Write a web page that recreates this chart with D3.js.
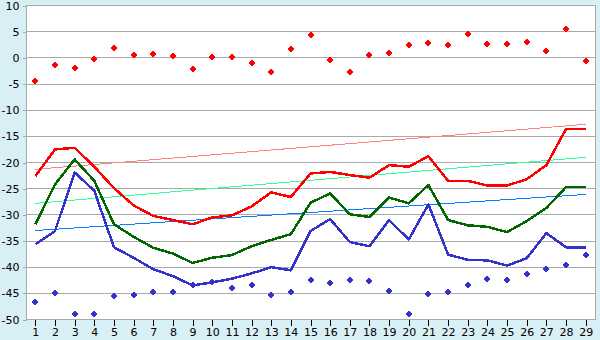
<!DOCTYPE html>
<html>
<head>
  <meta charset="utf-8">
  <title></title>
  <style>
    body { margin: 0; background: #d9eff6; }
    svg { display: block; }
    text { font-family: "DejaVu Sans", Verdana, sans-serif; font-size: 11px; fill: #000; }
  </style>
  <script src="https://d3js.org/d3.v7.min.js"></script>
</head>
<body>
  <svg id="chart" width="600" height="340"></svg>
  <script>
    // categories on x
    const days = [1, 2, 3, 4, 5, 6, 7, 8, 9, 10, 11, 12, 13, 14, 15, 16, 17, 18, 19, 20, 21, 22, 23, 24, 25, 26, 27, 28, 29]
    const yTicks = [-50, -45, -40, -35, -30, -25, -20, -15, -10, -5, 0, 5, 10]

    // main lines
    const redLine = [-22.6, -17.5, -17.2, -20.8, -24.9, -28.2, -30.2, -31.0, -31.8, -30.5, -30.1, -28.4, -25.7, -26.6, -22.1,
      -21.8, -22.4, -22.9, -20.5, -20.8, -18.8, -23.5, -23.5, -24.4, -24.4, -23.2, -20.5, -13.6, -13.6]
    const greenLine = [-31.8, -24.2, -19.4, -23.5, -31.8, -34.2, -36.3, -37.4, -39.2, -38.2, -37.7, -36.0, -34.8, -33.7, -27.7,
      -25.9, -29.9, -30.4, -26.7, -27.8, -24.3, -31.0, -32.0, -32.3, -33.3, -31.2, -28.7, -24.7, -24.7]
    const blueLine = [-35.6, -33.1, -21.9, -25.4, -36.2, -38.2, -40.4, -41.7, -43.5, -42.9, -42.2, -41.2, -40.0, -40.6, -33.1,
      -30.8, -35.2, -36.0, -31.0, -34.7, -28.0, -37.6, -38.6, -38.7, -39.7, -38.3, -33.5, -36.2, -36.2]

    // scatter points
    const redDots = [-4.5, -1.3, -1.9, -0.2, 1.9, 0.6, 0.8, 0.4, -2.1, 0.2, 0.2, -0.9, -2.8, 1.6, 4.3,
      -0.5, -2.8, 0.6, 1.0, 2.4, 2.9, 2.4, 4.6, 2.7, 2.7, 3.1, 1.4, 5.6, -0.7]
    const blueDots = [-46.6, -45.0, -48.9, -49.0, -45.6, -45.4, -44.8, -44.8, -43.5, -42.9, -43.9, -43.4, -45.4, -44.8, -42.5,
      -43.1, -42.5, -42.7, -44.5, -49.0, -45.2, -44.8, -43.5, -42.2, -42.5, -41.4, -40.4, -39.5, -37.6]

    // trend lines, value at day 1 and at day 29
    const redTrend = [-21.3, -12.7]
    const greenTrend = [-27.8, -19.0]
    const blueTrend = [-33.0, -26.1]

    const svg = d3.select("#chart")

    const x = d3.scalePoint()
      .domain(days)
      .range([25.5, 595.5])
      .padding(0.5)

    const y = d3.scaleLinear()
      .domain([-50, 10])
      .range([319.5, 5.5])

    // plot area
    svg.append("rect")
      .attr("x", 26)
      .attr("y", y(10))
      .attr("width", 595.5 - 26)
      .attr("height", y(-50) - y(10))
      .attr("fill", "#fff")

    // grid
    svg.append("g")
      .selectAll("line")
      .data(yTicks)
      .join("line")
      .attr("x1", 26)
      .attr("x2", 595.5)
      .attr("y1", d => y(d))
      .attr("y2", d => y(d))
      .attr("stroke", "#aaa")
      .attr("shape-rendering", "crispEdges")

    // right border
    svg.append("line")
      .attr("x1", 595.5).attr("x2", 595.5)
      .attr("y1", y(10)).attr("y2", y(-50))
      .attr("stroke", "#aaa")
      .attr("shape-rendering", "crispEdges")

    // y axis
    const yAxis = svg.append("g")
      .attr("transform", "translate(26.5,0)")
      .call(d3.axisLeft(y).tickValues(yTicks).tickSize(4).tickPadding(3).tickFormat(d => String(d)))
    yAxis.selectAll("line, path").attr("stroke", "#aaa").attr("shape-rendering", "crispEdges")
    yAxis.select(".domain").attr("d", `M0,${y(10)}V${y(-50)}`)
    yAxis.selectAll("text").style("font-family", null).attr("fill", "#000")

    // x axis
    const xAxis = svg.append("g")
      .attr("transform", `translate(0,${y(-50)})`)
      .call(d3.axisBottom(x).tickSize(6).tickPadding(3))
    xAxis.select(".domain").remove()
    xAxis.selectAll("line").attr("stroke", "#000").attr("shape-rendering", "crispEdges")
    xAxis.selectAll("text").style("font-family", null).attr("fill", "#000")

    // trend lines
    const trends = [[redTrend, "#ff8080"], [greenTrend, "#33ff99"], [blueTrend, "#0080ff"]]
    svg.append("g")
      .selectAll("line")
      .data(trends)
      .join("line")
      .attr("x1", x(days[0]))
      .attr("x2", x(days[days.length - 1]))
      .attr("y1", d => y(d[0][0]))
      .attr("y2", d => y(d[0][1]))
      .attr("stroke", d => d[1])
      .attr("stroke-width", 1)
      .attr("shape-rendering", "crispEdges")

    // main lines
    const line = d3.line()
      .x((d, i) => x(days[i]))
      .y(d => y(d))

    const series = [[redLine, "#ff0000"], [greenLine, "#006600"], [blueLine, "#3333cc"]]
    svg.append("g")
      .selectAll("path")
      .data(series)
      .join("path")
      .attr("d", d => line(d[0]))
      .attr("fill", "none")
      .attr("stroke", d => d[1])
      .attr("stroke-width", 2.5)
      .attr("stroke-linejoin", "round")
      .attr("shape-rendering", "crispEdges")

    // scatter markers, small pixel cross with a bold centre
    function drawDots(values, color) {
      const g = svg.append("g").attr("fill", color).attr("shape-rendering", "crispEdges")
      const pts = values.map((v, i) => [Math.round(x(days[i])), Math.round(y(v))])
      g.selectAll("rect.h").data(pts).join("rect").attr("class", "h")
        .attr("x", d => d[0] - 3).attr("y", d => d[1] - 1).attr("width", 6).attr("height", 2)
      g.selectAll("rect.v").data(pts).join("rect").attr("class", "v")
        .attr("x", d => d[0] - 1).attr("y", d => d[1] - 3).attr("width", 2).attr("height", 6)
      g.selectAll("rect.c").data(pts).join("rect").attr("class", "c")
        .attr("x", d => d[0] - 2).attr("y", d => d[1] - 2).attr("width", 4).attr("height", 4)
    }
    drawDots(redDots, "#ff0000")
    drawDots(blueDots, "#3333cc")
  </script>
</body>
</html>
